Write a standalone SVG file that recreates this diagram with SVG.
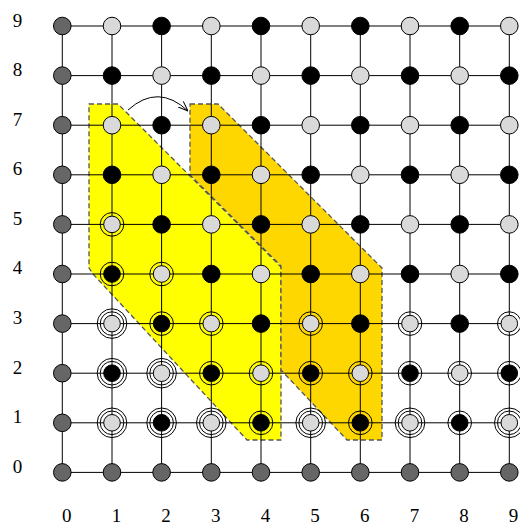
<svg xmlns="http://www.w3.org/2000/svg" width="520" height="525" viewBox="0 0 520 525">
<style>
.d{fill:#666;stroke:#000;stroke-width:1}
.l{fill:#d9d9d9;stroke:#000;stroke-width:1}
.b{fill:#000;stroke:#000;stroke-width:1}
.r{fill:none;stroke:#000;stroke-width:1}
.reg{stroke:#555;stroke-width:1.3;stroke-dasharray:5,3;stroke-linejoin:round}
.lab{font-family:"Liberation Serif","Times New Roman",serif;font-size:19px;fill:#000;text-anchor:middle}
.grid{stroke:#000;stroke-width:1;fill:none}
</style>
<defs>
<marker id="ah" viewBox="0 0 10 10" refX="10" refY="5" markerWidth="10" markerHeight="10" orient="auto" markerUnits="userSpaceOnUse">
<path d="M0,1.2 L10,5 L0,8.8" fill="none" stroke="#000" stroke-width="1"/>
</marker>
</defs>
<g id="regions">
<polygon class="reg" fill="#ffff00" points="89,104 118,104 281,267 281,440 247,440 93,274 89,268"/>
<polygon class="reg" fill="#ffd700" points="190,104 218,104 382,268 382,440 347,440 281,370 281,266 190,175"/>
</g>
<g id="connectors">
<path class="grid" d="M62.3,26H509.3M62.3,75.6H509.3M62.3,125.2H509.3M62.3,174.8H509.3M62.3,224.4H509.3M62.3,274H509.3M62.3,323.6H509.3M62.3,373.2H509.3M62.3,422.8H509.3M62.3,472.4H509.3M62.3,26V472.4M112,26V472.4M161.6,26V472.4M211.3,26V472.4M261,26V472.4M310.7,26V472.4M360.3,26V472.4M410,26V472.4M459.7,26V472.4M509.3,26V472.4"/>
<path id="shift" d="M128,110 Q158,83 188,111" fill="none" stroke="#000" stroke-width="1" marker-end="url(#ah)"/>
</g>
<g id="nodes">
<g id="n0-9"><circle class="d" cx="62.3" cy="26" r="8.8"/></g>
<g id="n1-9"><circle class="l" cx="112" cy="26" r="8.8"/></g>
<g id="n2-9"><circle class="b" cx="161.6" cy="26" r="8.8"/></g>
<g id="n3-9"><circle class="l" cx="211.3" cy="26" r="8.8"/></g>
<g id="n4-9"><circle class="b" cx="261" cy="26" r="8.8"/></g>
<g id="n5-9"><circle class="l" cx="310.7" cy="26" r="8.8"/></g>
<g id="n6-9"><circle class="b" cx="360.3" cy="26" r="8.8"/></g>
<g id="n7-9"><circle class="l" cx="410" cy="26" r="8.8"/></g>
<g id="n8-9"><circle class="b" cx="459.7" cy="26" r="8.8"/></g>
<g id="n9-9"><circle class="l" cx="509.3" cy="26" r="8.8"/></g>

<g id="n0-8"><circle class="d" cx="62.3" cy="75.6" r="8.8"/></g>
<g id="n1-8"><circle class="b" cx="112" cy="75.6" r="8.8"/></g>
<g id="n2-8"><circle class="l" cx="161.6" cy="75.6" r="8.8"/></g>
<g id="n3-8"><circle class="b" cx="211.3" cy="75.6" r="8.8"/></g>
<g id="n4-8"><circle class="l" cx="261" cy="75.6" r="8.8"/></g>
<g id="n5-8"><circle class="b" cx="310.7" cy="75.6" r="8.8"/></g>
<g id="n6-8"><circle class="l" cx="360.3" cy="75.6" r="8.8"/></g>
<g id="n7-8"><circle class="b" cx="410" cy="75.6" r="8.8"/></g>
<g id="n8-8"><circle class="l" cx="459.7" cy="75.6" r="8.8"/></g>
<g id="n9-8"><circle class="b" cx="509.3" cy="75.6" r="8.8"/></g>

<g id="n0-7"><circle class="d" cx="62.3" cy="125.2" r="8.8"/></g>
<g id="n1-7"><circle class="l" cx="112" cy="125.2" r="8.8"/></g>
<g id="n2-7"><circle class="b" cx="161.6" cy="125.2" r="8.8"/></g>
<g id="n3-7"><circle class="l" cx="211.3" cy="125.2" r="8.8"/></g>
<g id="n4-7"><circle class="b" cx="261" cy="125.2" r="8.8"/></g>
<g id="n5-7"><circle class="l" cx="310.7" cy="125.2" r="8.8"/></g>
<g id="n6-7"><circle class="b" cx="360.3" cy="125.2" r="8.8"/></g>
<g id="n7-7"><circle class="l" cx="410" cy="125.2" r="8.8"/></g>
<g id="n8-7"><circle class="b" cx="459.7" cy="125.2" r="8.8"/></g>
<g id="n9-7"><circle class="l" cx="509.3" cy="125.2" r="8.8"/></g>

<g id="n0-6"><circle class="d" cx="62.3" cy="174.8" r="8.8"/></g>
<g id="n1-6"><circle class="b" cx="112" cy="174.8" r="8.8"/></g>
<g id="n2-6"><circle class="l" cx="161.6" cy="174.8" r="8.8"/></g>
<g id="n3-6"><circle class="b" cx="211.3" cy="174.8" r="8.8"/></g>
<g id="n4-6"><circle class="l" cx="261" cy="174.8" r="8.8"/></g>
<g id="n5-6"><circle class="b" cx="310.7" cy="174.8" r="8.8"/></g>
<g id="n6-6"><circle class="l" cx="360.3" cy="174.8" r="8.8"/></g>
<g id="n7-6"><circle class="b" cx="410" cy="174.8" r="8.8"/></g>
<g id="n8-6"><circle class="l" cx="459.7" cy="174.8" r="8.8"/></g>
<g id="n9-6"><circle class="b" cx="509.3" cy="174.8" r="8.8"/></g>

<g id="n0-5"><circle class="d" cx="62.3" cy="224.4" r="8.8"/></g>
<g id="n1-5"><circle class="r" cx="112" cy="224.4" r="11.8"/><circle class="l" cx="112" cy="224.4" r="8.3"/></g>
<g id="n2-5"><circle class="b" cx="161.6" cy="224.4" r="8.8"/></g>
<g id="n3-5"><circle class="l" cx="211.3" cy="224.4" r="8.8"/></g>
<g id="n4-5"><circle class="b" cx="261" cy="224.4" r="8.8"/></g>
<g id="n5-5"><circle class="l" cx="310.7" cy="224.4" r="8.8"/></g>
<g id="n6-5"><circle class="b" cx="360.3" cy="224.4" r="8.8"/></g>
<g id="n7-5"><circle class="l" cx="410" cy="224.4" r="8.8"/></g>
<g id="n8-5"><circle class="b" cx="459.7" cy="224.4" r="8.8"/></g>
<g id="n9-5"><circle class="l" cx="509.3" cy="224.4" r="8.8"/></g>

<g id="n0-4"><circle class="d" cx="62.3" cy="274" r="8.8"/></g>
<g id="n1-4"><circle class="r" cx="112" cy="274" r="11.8"/><circle class="b" cx="112" cy="274" r="8.3"/></g>
<g id="n2-4"><circle class="r" cx="161.6" cy="274" r="11.8"/><circle class="l" cx="161.6" cy="274" r="8.3"/></g>
<g id="n3-4"><circle class="b" cx="211.3" cy="274" r="8.8"/></g>
<g id="n4-4"><circle class="l" cx="261" cy="274" r="8.8"/></g>
<g id="n5-4"><circle class="b" cx="310.7" cy="274" r="8.8"/></g>
<g id="n6-4"><circle class="l" cx="360.3" cy="274" r="8.8"/></g>
<g id="n7-4"><circle class="b" cx="410" cy="274" r="8.8"/></g>
<g id="n8-4"><circle class="l" cx="459.7" cy="274" r="8.8"/></g>
<g id="n9-4"><circle class="b" cx="509.3" cy="274" r="8.8"/></g>

<g id="n0-3"><circle class="d" cx="62.3" cy="323.6" r="8.8"/></g>
<g id="n1-3"><circle class="r" cx="112" cy="323.6" r="14.8"/><circle class="r" cx="112" cy="323.6" r="11.8"/><circle class="l" cx="112" cy="323.6" r="8.3"/></g>
<g id="n2-3"><circle class="r" cx="161.6" cy="323.6" r="11.8"/><circle class="b" cx="161.6" cy="323.6" r="8.3"/></g>
<g id="n3-3"><circle class="r" cx="211.3" cy="323.6" r="11.8"/><circle class="l" cx="211.3" cy="323.6" r="8.3"/></g>
<g id="n4-3"><circle class="b" cx="261" cy="323.6" r="8.8"/></g>
<g id="n5-3"><circle class="r" cx="310.7" cy="323.6" r="11.8"/><circle class="l" cx="310.7" cy="323.6" r="8.3"/></g>
<g id="n6-3"><circle class="b" cx="360.3" cy="323.6" r="8.8"/></g>
<g id="n7-3"><circle class="r" cx="410" cy="323.6" r="11.8"/><circle class="l" cx="410" cy="323.6" r="8.3"/></g>
<g id="n8-3"><circle class="b" cx="459.7" cy="323.6" r="8.8"/></g>
<g id="n9-3"><circle class="r" cx="509.3" cy="323.6" r="11.8"/><circle class="l" cx="509.3" cy="323.6" r="8.3"/></g>

<g id="n0-2"><circle class="d" cx="62.3" cy="373.2" r="8.8"/></g>
<g id="n1-2"><circle class="r" cx="112" cy="373.2" r="14.8"/><circle class="r" cx="112" cy="373.2" r="11.8"/><circle class="b" cx="112" cy="373.2" r="8.3"/></g>
<g id="n2-2"><circle class="r" cx="161.6" cy="373.2" r="14.8"/><circle class="r" cx="161.6" cy="373.2" r="11.8"/><circle class="l" cx="161.6" cy="373.2" r="8.3"/></g>
<g id="n3-2"><circle class="r" cx="211.3" cy="373.2" r="11.8"/><circle class="b" cx="211.3" cy="373.2" r="8.3"/></g>
<g id="n4-2"><circle class="r" cx="261" cy="373.2" r="11.8"/><circle class="l" cx="261" cy="373.2" r="8.3"/></g>
<g id="n5-2"><circle class="r" cx="310.7" cy="373.2" r="11.8"/><circle class="b" cx="310.7" cy="373.2" r="8.3"/></g>
<g id="n6-2"><circle class="r" cx="360.3" cy="373.2" r="11.8"/><circle class="l" cx="360.3" cy="373.2" r="8.3"/></g>
<g id="n7-2"><circle class="r" cx="410" cy="373.2" r="11.8"/><circle class="b" cx="410" cy="373.2" r="8.3"/></g>
<g id="n8-2"><circle class="r" cx="459.7" cy="373.2" r="11.8"/><circle class="l" cx="459.7" cy="373.2" r="8.3"/></g>
<g id="n9-2"><circle class="r" cx="509.3" cy="373.2" r="11.8"/><circle class="b" cx="509.3" cy="373.2" r="8.3"/></g>

<g id="n0-1"><circle class="d" cx="62.3" cy="422.8" r="8.8"/></g>
<g id="n1-1"><circle class="r" cx="112" cy="422.8" r="14.8"/><circle class="r" cx="112" cy="422.8" r="11.8"/><circle class="l" cx="112" cy="422.8" r="8.3"/></g>
<g id="n2-1"><circle class="r" cx="161.6" cy="422.8" r="14.8"/><circle class="r" cx="161.6" cy="422.8" r="11.8"/><circle class="b" cx="161.6" cy="422.8" r="8.3"/></g>
<g id="n3-1"><circle class="r" cx="211.3" cy="422.8" r="14.8"/><circle class="r" cx="211.3" cy="422.8" r="11.8"/><circle class="l" cx="211.3" cy="422.8" r="8.3"/></g>
<g id="n4-1"><circle class="r" cx="261" cy="422.8" r="11.8"/><circle class="b" cx="261" cy="422.8" r="8.3"/></g>
<g id="n5-1"><circle class="r" cx="310.7" cy="422.8" r="14.8"/><circle class="r" cx="310.7" cy="422.8" r="11.8"/><circle class="l" cx="310.7" cy="422.8" r="8.3"/></g>
<g id="n6-1"><circle class="r" cx="360.3" cy="422.8" r="11.8"/><circle class="b" cx="360.3" cy="422.8" r="8.3"/></g>
<g id="n7-1"><circle class="r" cx="410" cy="422.8" r="14.8"/><circle class="r" cx="410" cy="422.8" r="11.8"/><circle class="l" cx="410" cy="422.8" r="8.3"/></g>
<g id="n8-1"><circle class="r" cx="459.7" cy="422.8" r="11.8"/><circle class="b" cx="459.7" cy="422.8" r="8.3"/></g>
<g id="n9-1"><circle class="r" cx="509.3" cy="422.8" r="14.8"/><circle class="r" cx="509.3" cy="422.8" r="11.8"/><circle class="l" cx="509.3" cy="422.8" r="8.3"/></g>

<g id="n0-0"><circle class="d" cx="62.3" cy="472.4" r="8.8"/></g>
<g id="n1-0"><circle class="d" cx="112" cy="472.4" r="8.8"/></g>
<g id="n2-0"><circle class="d" cx="161.6" cy="472.4" r="8.8"/></g>
<g id="n3-0"><circle class="d" cx="211.3" cy="472.4" r="8.8"/></g>
<g id="n4-0"><circle class="d" cx="261" cy="472.4" r="8.8"/></g>
<g id="n5-0"><circle class="d" cx="310.7" cy="472.4" r="8.8"/></g>
<g id="n6-0"><circle class="d" cx="360.3" cy="472.4" r="8.8"/></g>
<g id="n7-0"><circle class="d" cx="410" cy="472.4" r="8.8"/></g>
<g id="n8-0"><circle class="d" cx="459.7" cy="472.4" r="8.8"/></g>
<g id="n9-0"><circle class="d" cx="509.3" cy="472.4" r="8.8"/></g>
</g>
<g id="labels">
<text class="lab" x="17.5" y="26.5">9</text>
<text class="lab" x="17.5" y="76">8</text>
<text class="lab" x="17.5" y="125.6">7</text>
<text class="lab" x="17.5" y="175.2">6</text>
<text class="lab" x="17.5" y="224.8">5</text>
<text class="lab" x="17.5" y="274.4">4</text>
<text class="lab" x="17.5" y="324">3</text>
<text class="lab" x="17.5" y="373.6">2</text>
<text class="lab" x="17.5" y="423.2">1</text>
<text class="lab" x="17.5" y="472.8">0</text>
<text class="lab" x="66.7" y="521.5">0</text>
<text class="lab" x="116.4" y="521.5">1</text>
<text class="lab" x="166" y="521.5">2</text>
<text class="lab" x="215.7" y="521.5">3</text>
<text class="lab" x="265.4" y="521.5">4</text>
<text class="lab" x="315" y="521.5">5</text>
<text class="lab" x="364.7" y="521.5">6</text>
<text class="lab" x="414.4" y="521.5">7</text>
<text class="lab" x="464" y="521.5">8</text>
<text class="lab" x="513.5" y="521.5">9</text>
</g>
</svg>
